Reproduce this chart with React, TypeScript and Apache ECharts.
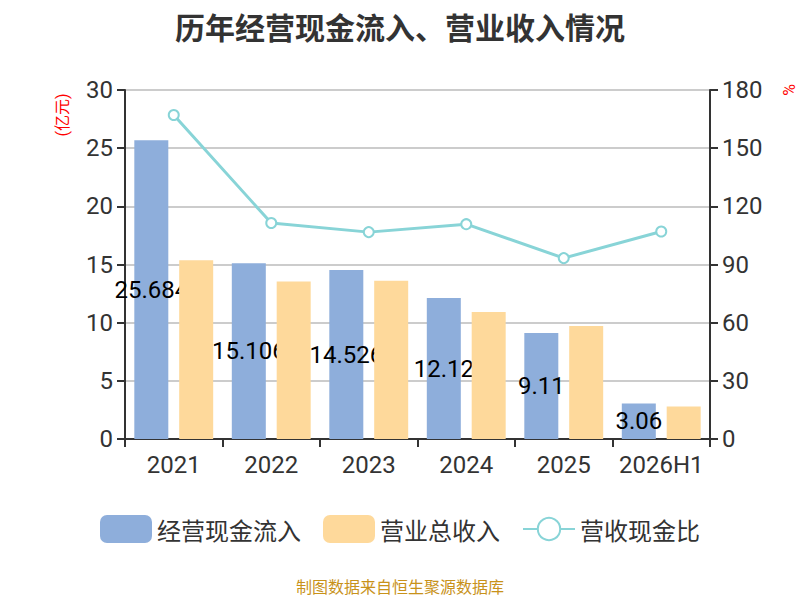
import { useEffect, useRef } from 'react';
import * as echarts from 'echarts';

const years = ['2021', '2022', '2023', '2024', '2025', '2026H1'];
const cashInflow = [25.684, 15.106, 14.526, 12.12, 9.11, 3.06];
const revenue = [15.37, 13.53, 13.61, 10.92, 9.72, 2.8];
const cashRatio = [167.1, 111.4, 106.7, 110.8, 93.3, 107.0];

const FONT = 'Roboto, "Noto Sans CJK SC", sans-serif';
const CJK_FONT = '"Noto Sans CJK SC", sans-serif';
const AXIS_TEXT = '#333333';
const LINE_COLOR = '#88d4d7';

export default function App() {
  const chartRef = useRef<HTMLDivElement>(null);

  useEffect(() => {
    if (!chartRef.current) return;
    document.body.style.margin = '0';
    const chart = echarts.init(chartRef.current, undefined, { renderer: 'svg' });

    const option: echarts.EChartsOption = {
      animation: false,
      textStyle: { fontFamily: FONT },
      title: {
        text: '历年经营现金流入、营业收入情况',
        left: 'center',
        top: 6,
        textStyle: { fontSize: 30, fontWeight: 'bold', color: '#333333', fontFamily: CJK_FONT },
      },
      legend: {
        bottom: 52,
        left: 'center',
        itemWidth: 52,
        itemHeight: 28,
        itemGap: 22,
        textStyle: { fontSize: 24, color: '#333333', fontFamily: CJK_FONT },
        data: [
          { name: '经营现金流入', icon: 'roundRect' },
          { name: '营业总收入', icon: 'roundRect' },
          { name: '营收现金比' },
        ],
      },
      grid: { left: 125, right: 90, top: 90, bottom: 161 },
      xAxis: {
        type: 'category',
        data: years,
        axisLine: { lineStyle: { color: '#333333', width: 2 } },
        axisTick: { show: true, length: 8, lineStyle: { color: '#333333', width: 2 } },
        axisLabel: { fontSize: 24, color: AXIS_TEXT, margin: 14, interval: 0 },
      },
      yAxis: [
        {
          type: 'value',
          min: 0,
          max: 30,
          interval: 5,
          axisLine: { show: true, lineStyle: { color: '#333333', width: 2 } },
          axisTick: { show: true, length: 8, lineStyle: { color: '#333333', width: 2 } },
          axisLabel: { fontSize: 24, color: AXIS_TEXT, margin: 12 },
          splitLine: { lineStyle: { color: '#cccccc', width: 2 } },
        },
        {
          type: 'value',
          min: 0,
          max: 180,
          interval: 30,
          axisLine: { show: true, lineStyle: { color: '#333333', width: 2 } },
          axisTick: { show: true, length: 8, lineStyle: { color: '#333333', width: 2 } },
          axisLabel: { fontSize: 24, color: AXIS_TEXT, margin: 12 },
          splitLine: { show: false },
        },
      ],
      graphic: [
        {
          type: 'text',
          x: 62,
          y: 115,
          rotation: Math.PI / 2,
          style: { text: '(亿元)', fill: '#ff0000', fontSize: 16, textAlign: 'center', textVerticalAlign: 'middle', fontFamily: FONT },
        },
        {
          type: 'text',
          x: 789,
          y: 90,
          rotation: Math.PI / 2,
          style: { text: '%', fill: '#ff0000', fontSize: 16, textAlign: 'center', textVerticalAlign: 'middle', fontFamily: FONT },
        },
        {
          type: 'text',
          left: 'center',
          top: 578,
          style: { text: '制图数据来自恒生聚源数据库', fill: '#c8921a', fontSize: 16, fontFamily: CJK_FONT },
        },
      ],
      series: [
        {
          name: '经营现金流入',
          type: 'bar',
          data: cashInflow,
          barWidth: 34,
          barGap: '32%',
          z: 2,
          itemStyle: { color: '#8eaedb' },
          label: {
            show: true,
            position: 'inside',
            color: '#000000',
            fontSize: 24,
            fontFamily: FONT,
          },
        },
        {
          name: '营业总收入',
          type: 'bar',
          data: revenue,
          barWidth: 34,
          z: 3,
          itemStyle: { color: '#fed99b' },
        },
        {
          name: '营收现金比',
          type: 'line',
          yAxisIndex: 1,
          data: cashRatio,
          z: 4,
          symbol: 'emptyCircle',
          symbolSize: 10,
          lineStyle: { color: LINE_COLOR, width: 3 },
          itemStyle: { color: LINE_COLOR, borderWidth: 2 },
        },
      ],
    };

    chart.setOption(option);
    return () => {
      chart.dispose();
    };
  }, []);

  return <div ref={chartRef} style={{ width: 800, height: 600 }} />;
}
